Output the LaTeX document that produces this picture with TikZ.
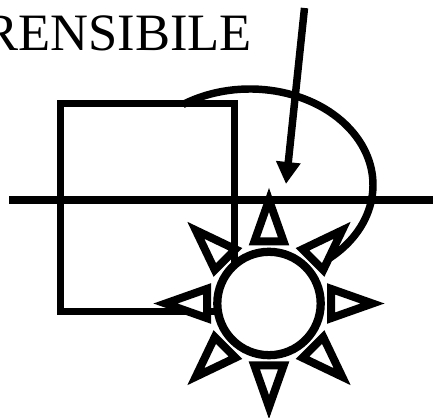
\documentclass[tikz,border=0pt]{standalone}
\usepackage{fontspec}
\setmainfont{Liberation Serif}
\usetikzlibrary{arrows.meta}
\tikzset{
  heavy/.style={line width=5.6pt,line join=miter},
  rayline/.style={line width=6pt,fill=white,miter limit=10},
}
\begin{document}
\begin{tikzpicture}[x=0.75pt,y=0.75pt]
\useasboundingbox (0,0) rectangle (433,418);
\node[inner sep=0,anchor=base east,font=\fontsize{39.4}{42}\selectfont] (title) at (252,367) {RENSIBILE};
\draw[heavy] (250,233) ++(123:123 and 96) arc[start angle=123,end angle=-49.4,x radius=123,y radius=96];
\draw[heavy] (60.5,314.5) rectangle (234.5,106.5);
\draw[line width=6pt] (9,218)--(433,218);
\coordinate (arrowstart) at (304.5,410);
\coordinate (arrowtip) at (286,234);
\draw[line width=5.6pt,-{Triangle[length=16.5pt,width=17.5pt]}] (arrowstart)--(arrowtip);
\foreach \ang in {0,45,...,315}
  \draw[rayline,rotate around={\ang:(269,114.5)}] (254.35,176.5)--(269,218)--(283.65,176.5)--cycle;
\draw[line width=6.2pt,fill=white] (269,114.5) circle (51.7);
\end{tikzpicture}
\end{document}
